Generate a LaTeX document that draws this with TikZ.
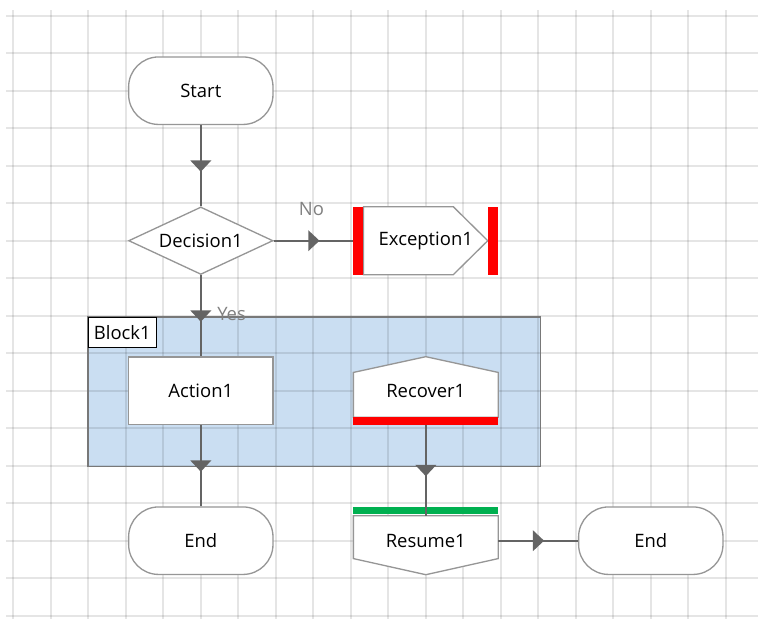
\documentclass[tikz,border=0pt]{standalone}
\usepackage{fontspec}
\newfontfamily\flowfont{Open Sans}
\newcommand{\flowtext}{\flowfont\fontsize{14}{17}\selectfont}
\usetikzlibrary{shapes.geometric}
\usetikzlibrary{arrows.meta}
\usetikzlibrary{decorations.markings}

\definecolor{shapegray}{RGB}{150,150,150}
\definecolor{linegray}{RGB}{100,100,100}
\definecolor{labelgray}{RGB}{128,128,128}
\definecolor{blockblue}{RGB}{202,222,242}
\definecolor{blockedge}{RGB}{120,120,120}
\definecolor{okgreen}{RGB}{0,176,80}

\pgfdeclarelayer{base}
\pgfdeclarelayer{back}
\pgfsetlayers{base,back,main}

\tikzset{
  every node/.style={font=\flowtext},
  flowbox/.style={minimum width=3.85cm, minimum height=1.8cm, inner sep=0pt},
  terminal/.style={flowbox, draw=shapegray, fill=white, line width=1pt, rounded corners=0.8cm},
  decision/.style={flowbox, diamond, aspect=2, draw=shapegray, fill=white, line width=1pt},
  action/.style={flowbox, draw=shapegray, fill=white, line width=1pt},
  outline/.style={draw=shapegray, fill=white, line width=1pt},
  gridline/.style={black, draw opacity=0.1, line width=1.3pt},
  blockarea/.style={fill=blockblue, minimum width=12.05cm, minimum height=3.98cm, inner sep=0pt},
  blocktag/.style={draw=black, fill=white, line width=0.8pt, minimum width=1.8cm, minimum height=0.8cm, inner sep=2pt},
  flow/.style={color=linegray, line width=1.5pt, postaction={decorate},
    decoration={markings, mark=at position 0.5 with {\pgftransformxshift{1.6mm}\arrow{Triangle[width=5.5mm, length=3mm]}}}},
  branch/.style={text=labelgray},
}

\begin{document}
\begin{tikzpicture}[x=1cm, y=-1cm]
  \useasboundingbox (-0.355,-0.419) rectangle (19.859,16.088);

  % background grid and the block area
  \begin{pgfonlayer}{base}
    \node[blockarea] (block) at (8.025,10.03) {};
    \foreach \c in {0,...,19}
      \draw[gridline] (\c,-0.15) -- (\c,16.2);
    \foreach \r in {0,...,16}
      \draw[gridline] (-0.19,\r) -- (19.95,\r);
    \draw[blockedge, line width=0.9pt] (block.north west) rectangle (block.south east);
  \end{pgfonlayer}
  \node[blocktag, anchor=north west] (tag) at (block.north west) {Block1};

  % steps
  \node[terminal] (start) at (5,2) {Start};
  \node[decision] (dec) at (5,6) {Decision1};
  \node[flowbox] (exc) at (11,6) {Exception1};
  \node[action] (act) at (5,10) {Action1};
  \node[flowbox] (rec) at (11,10) {Recover1};
  \node[terminal] (endA) at (5,14) {End};
  \node[flowbox] (res) at (11,14) {Resume1};
  \node[terminal] (endB) at (17,14) {End};

  % outlines of the handler shapes
  \begin{pgfonlayer}{back}
    \draw[outline] ([xshift=2.7mm]exc.north west) -- ([xshift=-12mm]exc.north east)
      -- ([xshift=-2.8mm]exc.east) -- ([xshift=-12mm]exc.south east)
      -- ([xshift=2.7mm]exc.south west) -- cycle;
    \fill[red] (exc.north west) rectangle ([xshift=2.7mm]exc.south west);
    \fill[red] ([xshift=-2.8mm]exc.north east) rectangle (exc.south east);

    \draw[outline] (rec.north) -- ([yshift=-4.2mm]rec.north east)
      -- ([yshift=2mm]rec.south east) -- ([yshift=2mm]rec.south west)
      -- ([yshift=-4.2mm]rec.north west) -- cycle;
    \fill[red] ([yshift=2mm]rec.south west) rectangle (rec.south east);

    \draw[outline] ([yshift=-2.4mm]res.north west) -- ([yshift=-2.4mm]res.north east)
      -- ([yshift=4.3mm]res.south east) -- (res.south)
      -- ([yshift=4.3mm]res.south west) -- cycle;
    \fill[okgreen] (res.north west) rectangle ([yshift=-2mm]res.north east);
  \end{pgfonlayer}

  % connectors
  \draw[flow] (start) -- (dec);
  \draw[flow] (dec) -- (exc);
  \draw[flow] (dec) -- (act);
  \draw[flow] (act) -- (endA);
  \draw[flow] (rec) -- ([yshift=-2.4mm]res.north);
  \draw[flow] (res) -- (endB);

  \node[branch] (no) at (7.95,5.15) {No};
  \node[branch] (yes) at (5.82,7.95) {Yes};
\end{tikzpicture}
\end{document}
